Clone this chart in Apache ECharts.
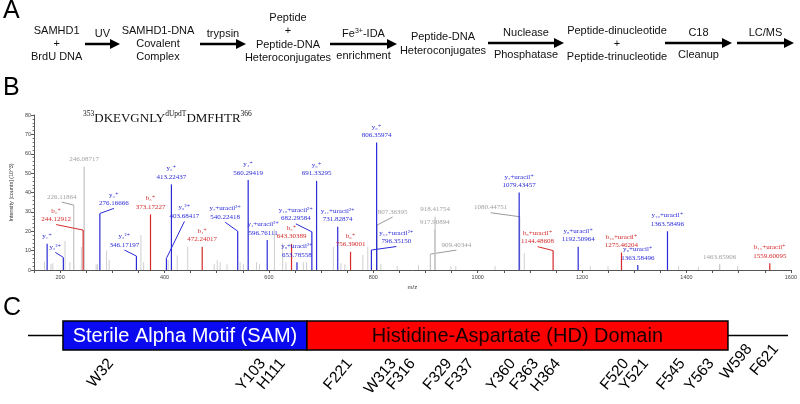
<!DOCTYPE html>
<html>
<head>
<meta charset="utf-8">
<script src="https://cdn.jsdelivr.net/npm/echarts@6/dist/echarts.min.js"></script>
<style>
  html, body { margin: 0; padding: 0; background: #fff; }
  #chart { width: 800px; height: 404px; }
</style>
</head>
<body>
<div id="chart"></div>
<script>
// ---- panel A: workflow steps
const flowSteps = [
  "SAMHD1\n+\nBrdU DNA",
  "SAMHD1-DNA\nCovalent\nComplex",
  "Peptide\n+\nPeptide-DNA\nHeteroconjugates",
  "Peptide-DNA\nHeteroconjugates",
  "Peptide-dinucleotide\n+\nPeptide-trinucleotide",
];
const flowArrowTop = ["UV", "trypsin", "{t|Fe}{sup|3+}{t|-IDA}", "Nuclease", "C18", "LC/MS"];
const flowArrowBottom = ["", "", "enrichment", "Phosphatase", "Cleanup", ""];

// ---- panel B: labelled peaks of the MS/MS spectrum (m/z, intensity x10^3)
const peakMz = [175.12, 206.2, 226.11864, 244.12912, 246.08717, 276.16666, 346.17197, 373.17227,
  403.68417, 413.22437, 472.24017, 540.22418, 560.29419, 596.76111, 643.30389, 653.78558,
  682.29584, 691.33295, 731.82874, 756.39001, 796.3515, 806.35974, 807.36395, 909.40344,
  917.90894, 918.41754, 1079.43457, 1080.44751, 1144.48608, 1192.50964, 1275.46204, 1306.7,
  1363.58496, 1463.65906, 1559.60095];
const peakIntensity = [13.5, 6.5, 33.5, 20.6, 53.3, 29.2, 7.2, 28.7,
  6, 44.2, 12, 20, 46.4, 15.5, 13.5, 4,
  19.7, 46, 22.3, 9.4, 10.3, 65.8, 23.2, 8.2,
  21, 27.5, 40, 27.5, 10, 12, 9, 2.6,
  20, 3, 3.5];
const peakIon = ["y₁⁺", "y₂²⁺", "", "b₂⁺", "", "y₂⁺", "y₃²⁺", "b₃⁺",
  "y₆²⁺", "y₃⁺", "b₄⁺", "y₇+uracil²⁺", "y₄⁺", "y₄+uracil²⁺", "b₅⁺", "y₉+uracil²⁺",
  "y₁₀+uracil²⁺", "y₅⁺", "y₁₁+uracil²⁺", "b₆⁺", "y₁₂+uracil²⁺", "y₆⁺", "", "",
  "", "", "y₇+uracil⁺", "", "b₉+uracil⁺", "y₈+uracil⁺", "b₁₀+uracil⁺", "y₉+uracil⁺",
  "y₁₀+uracil⁺", "", "b₁₂+uracil⁺"];
const peakText = ["", "", "226.11864", "244.12912", "246.08717", "276.16666", "346.17197", "373.17227",
  "403.68417", "413.22437", "472.24017", "540.22418", "560.29419", "596.76111", "643.30389", "653.78558",
  "682.29584", "691.33295", "731.82874", "756.39001", "796.35150", "806.35974", "807.36395", "909.40344",
  "917.90894", "918.41754", "1079.43457", "1080.44751", "1144.48608", "1192.50964", "1275.46204", "1363.58496",
  "1363.58496", "1463.65906", "1559.60095"];
const peakKind = ["y", "y", "n", "b", "n", "y", "y", "b",
  "y", "y", "b", "y", "y", "y", "b", "y",
  "y", "y", "y", "b", "y", "y", "n", "n",
  "n", "n", "y", "n", "b", "y", "b", "y",
  "y", "n", "b"];

// unlabelled background peaks
const bgMz = [170, 182.5, 186, 209.4, 218.8, 240.8, 269, 271.5, 289, 294, 354.8, 360, 407, 424.4, 444.5,
  495.3, 501, 506.6, 519.8, 544.8, 551.2, 576.2, 581.9, 610.6, 626.4, 632.7, 666, 672.2, 723.5, 738,
  745.5, 780, 789.4, 814.5, 845.8, 886.6, 948.7, 958, 1033.3, 1089.2, 1215.8, 1249.7, 1385, 1422.7, 1498];
const bgIntensity = [4.3, 3, 3.5, 15, 4, 12, 3, 3, 10, 5, 18, 4, 5, 7.5, 12,
  3, 5, 4, 3, 4, 3, 4, 3, 21, 14, 4, 4, 4, 12, 3.5,
  3, 7.7, 12, 3, 2, 2.5, 2, 2, 2, 8.6, 2, 2, 2, 1.5, 2];

// label displacement (px) for labels that sit beside their peak, with a leader line
const labelShift = {
  1: [-8, -6], 2: [-12, -4], 3: [-27, -6.5], 5: [14, -6], 6: [-12, -7], 8: [18, -38],
  11: [-12.5, -10], 13: [-4, -3], 16: [-16, -9], 20: [25, -4.5], 22: [15.5, -9],
  23: [26, -5], 27: [-29, -5], 28: [-15.5, -5],
};

// ---- panel C: domain map (schematic positions along the protein line, 0-100)
const domainNames = ["Sterile Alpha Motif (SAM)", "Histidine-Aspartate (HD) Domain"];
const domainStart = [4.6, 36.7];
const domainEnd = [36.7, 92.1];
const residueNames = ["W32", "Y103", "H111", "F221", "W313", "F316", "F329", "F337", "Y360", "F363",
  "H364", "F520", "Y521", "F545", "Y563", "W598", "F621"];
const residuePos = [10.9, 30.9, 33.5, 42.3, 48.1, 50.6, 55.4, 58.3, 63.8, 66.8,
  69.7, 78.7, 81.3, 86.1, 89.9, 94.9, 98.4];

const SANS = "'Liberation Sans', Arial, sans-serif";
const SERIF = "'Liberation Serif', 'DejaVu Serif', serif";
const kindColor = { y: "#2a2ad8", b: "#d42a2a", n: "#a0a0a0" };
const domainFill = ["#0a0af0", "#ff0000"];
const domainTextColor = ["#ffffff", "#1a0000"];

const chart = echarts.init(document.getElementById("chart"));

function peakRender(params, api) {
  const i = api.value(2);
  const kind = peakKind[i];
  const base = api.coord([api.value(0), 0]);
  const top = api.coord([api.value(0), api.value(1)]);
  const lineColor = kind === "n" ? "#c4c4c4" : kindColor[kind];
  const children = [{
    type: "line",
    shape: { x1: base[0], y1: base[1], x2: top[0], y2: top[1] },
    style: { stroke: lineColor, lineWidth: 1.2 },
  }];
  const shift = labelShift[i] || [0, -3];
  const ax = top[0] + shift[0];
  const ay = top[1] + shift[1];
  if (labelShift[i] && i !== 13) {
    children.push({
      type: "line",
      shape: { x1: ax, y1: ay + 1, x2: top[0], y2: top[1] },
      style: { stroke: kind === "n" ? "#9a9a9a" : kindColor[kind], lineWidth: 1 },
    });
  }
  const text = [peakIon[i], peakText[i]].filter(Boolean).join("\n");
  children.push({
    type: "text",
    x: ax,
    y: ay,
    style: {
      text: text,
      align: "center",
      verticalAlign: "bottom",
      fontFamily: SERIF,
      fontSize: 7,
      lineHeight: 8.5,
      fill: kindColor[kind],
    },
  });
  return { type: "group", children: children };
}

function bgRender(params, api) {
  const base = api.coord([api.value(0), 0]);
  const top = api.coord([api.value(0), api.value(1)]);
  return {
    type: "line",
    shape: { x1: base[0], y1: base[1], x2: top[0], y2: top[1] },
    style: { stroke: "#cfcfcf", lineWidth: 1 },
  };
}

function domainRender(params, api) {
  const i = params.dataIndex;
  const p0 = api.coord([api.value(0), 1]);
  const p1 = api.coord([api.value(1), -1]);
  return {
    type: "group",
    children: [
      {
        type: "rect",
        shape: { x: p0[0], y: p0[1], width: p1[0] - p0[0], height: p1[1] - p0[1] },
        style: { fill: domainFill[i], stroke: "#000", lineWidth: 1.5 },
      },
      {
        type: "text",
        x: (p0[0] + p1[0]) / 2,
        y: (p0[1] + p1[1]) / 2 + 1,
        style: {
          text: domainNames[i],
          align: "center",
          verticalAlign: "middle",
          fontFamily: SANS,
          fontSize: 20,
          fill: domainTextColor[i],
        },
      },
    ],
  };
}

function residueRender(params, api) {
  const pos = api.value(0);
  const inDomain = domainStart.some((s, k) => pos >= s && pos <= domainEnd[k]);
  const edge = api.coord([pos, inDomain ? -1 : 0]);
  return {
    type: "text",
    x: edge[0],
    y: edge[1] + 11,
    rotation: (50 * Math.PI) / 180,
    style: {
      text: residueNames[params.dataIndex],
      align: "right",
      verticalAlign: "middle",
      fontFamily: SANS,
      fontSize: 15.5,
      fill: "#000",
    },
  };
}

function arrow(x1, x2, y) {
  return {
    type: "group",
    children: [
      { type: "line", shape: { x1: x1, y1: y, x2: x2 - 8, y2: y }, style: { stroke: "#000", lineWidth: 2.5 } },
      { type: "polygon", shape: { points: [[x2 - 10, y - 5], [x2, y], [x2 - 10, y + 5]] }, style: { fill: "#000" } },
    ],
  };
}

const flowText = (text, x, y) => ({
  type: "text",
  x: x,
  y: y,
  style: {
    text: text,
    align: "center",
    verticalAlign: "middle",
    fontFamily: SANS,
    fontSize: 11,
    lineHeight: 13.3,
    fill: "#111",
    rich: {
      t: { fontFamily: SANS, fontSize: 11, fill: "#111" },
      sup: { fontFamily: SANS, fontSize: 7, fill: "#111", verticalAlign: "top", lineHeight: 11 },
    },
  },
});

const stepX = [56.7, 158, 288, 443, 617];
const stepY = [44, 44, 38, 44, 44];
const arrowSpan = [[85, 120], [200, 246], [330, 397], [488, 564], [665, 732], [737, 794]];
const arrowY = [44, 44, 44, 43, 43, 43];

const graphics = [
  { type: "text", left: 3, top: -1, style: { text: "A", fontFamily: SANS, fontSize: 25, fill: "#000" } },
  { type: "text", left: 3, top: 76, style: { text: "B", fontFamily: SANS, fontSize: 25, fill: "#000" } },
  { type: "text", left: 3, top: 296, style: { text: "C", fontFamily: SANS, fontSize: 25, fill: "#000" } },
];
flowSteps.forEach((s, i) => graphics.push(flowText(s, stepX[i], stepY[i])));
arrowSpan.forEach((a, i) => {
  graphics.push(arrow(a[0], a[1], arrowY[i]));
  const mid = (a[0] + a[1]) / 2;
  if (flowArrowTop[i]) graphics.push(flowText(flowArrowTop[i], mid, arrowY[i] - 10));
  if (flowArrowBottom[i]) graphics.push(flowText(flowArrowBottom[i], mid, arrowY[i] + 12));
});

const labelled = peakMz.map((m, i) => [m, peakIntensity[i], i]);

chart.setOption({
  animation: false,
  title: {
    text: "{s|353}{m|DKEVGNLY}{s|dUpdT}{m|DMFHTR}{s|366}",
    left: 83,
    top: 110,
    padding: 0,
    textStyle: {
      fontWeight: "normal",
      rich: {
        m: { fontFamily: SERIF, fontSize: 13, fontWeight: "normal", color: "#111", lineHeight: 15, verticalAlign: "bottom" },
        s: { fontFamily: SERIF, fontSize: 7.5, fontWeight: "normal", color: "#111", lineHeight: 15, verticalAlign: "top" },
      },
    },
  },
  graphic: graphics,
  grid: [
    { left: 23, right: 6, top: 115, bottom: 134 },
    { left: 28, right: 12, top: 321, height: 29 },
  ],
  xAxis: [
    {
      gridIndex: 0,
      type: "value",
      min: 150,
      max: 1600,
      interval: 50,
      name: "m/z",
      nameLocation: "middle",
      nameGap: 14,
      nameTextStyle: { fontFamily: SANS, fontSize: 6, color: "#333" },
      axisLine: { lineStyle: { color: "#555", width: 1 } },
      axisTick: { length: 3, lineStyle: { color: "#555" } },
      axisLabel: {
        margin: 4,
        fontFamily: SANS,
        fontSize: 5.5,
        color: "#444",
        formatter: (v) => (v % 200 === 0 ? String(v) : ""),
      },
      splitLine: { show: false },
    },
    { gridIndex: 1, type: "value", min: 0, max: 100, show: false },
  ],
  yAxis: [
    {
      gridIndex: 0,
      type: "value",
      min: 0,
      max: 80,
      interval: 10,
      name: "Intensity [counts] (10^3)",
      nameLocation: "middle",
      nameGap: 13,
      nameTextStyle: { fontFamily: SANS, fontSize: 5.5, color: "#333" },
      axisLine: { show: true, lineStyle: { color: "#555", width: 1 } },
      axisTick: { show: true, length: 3, lineStyle: { color: "#555" } },
      minorTick: { show: true, splitNumber: 5, length: 1.5, lineStyle: { color: "#777" } },
      axisLabel: { margin: 3, fontFamily: SANS, fontSize: 5.5, color: "#444" },
      splitLine: { show: false },
    },
    { gridIndex: 1, type: "value", min: -1, max: 1, show: false },
  ],
  series: [
    {
      type: "custom",
      xAxisIndex: 0,
      yAxisIndex: 0,
      clip: false,
      z: 1,
      renderItem: bgRender,
      data: bgMz.map((m, i) => [m, bgIntensity[i]]),
    },
    {
      type: "custom",
      xAxisIndex: 0,
      yAxisIndex: 0,
      clip: false,
      z: 2,
      renderItem: peakRender,
      data: labelled.filter((d) => peakKind[d[2]] === "n"),
    },
    {
      type: "custom",
      xAxisIndex: 0,
      yAxisIndex: 0,
      clip: false,
      z: 3,
      renderItem: peakRender,
      data: labelled.filter((d) => peakKind[d[2]] !== "n"),
    },
    {
      type: "line",
      xAxisIndex: 1,
      yAxisIndex: 1,
      symbol: "none",
      z: 1,
      lineStyle: { color: "#000", width: 1.5 },
      data: [[0, 0], [100, 0]],
    },
    {
      type: "custom",
      xAxisIndex: 1,
      yAxisIndex: 1,
      clip: false,
      z: 2,
      renderItem: domainRender,
      data: domainStart.map((s, i) => [s, domainEnd[i]]),
    },
    {
      type: "custom",
      xAxisIndex: 1,
      yAxisIndex: 1,
      clip: false,
      z: 3,
      renderItem: residueRender,
      data: residuePos.map((p) => [p, 0]),
    },
  ],
});
</script>
</body>
</html>
